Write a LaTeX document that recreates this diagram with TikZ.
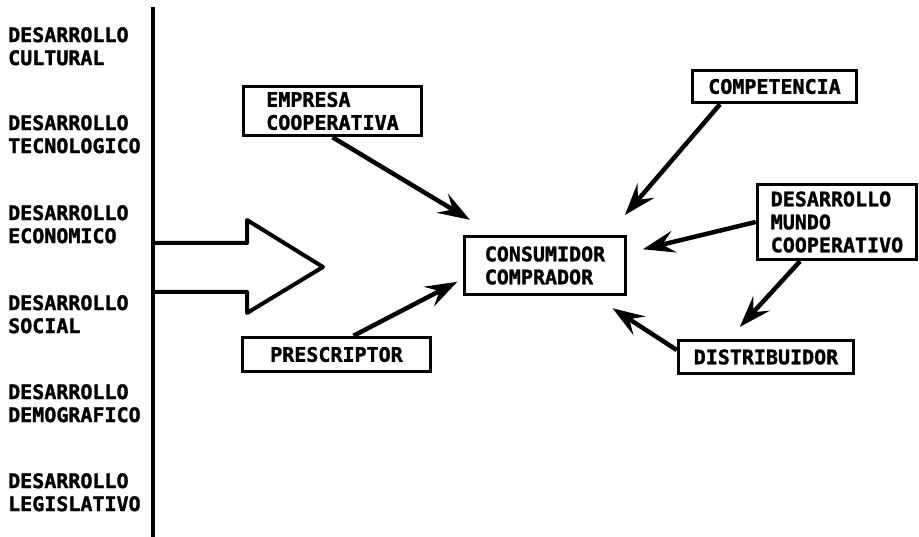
\documentclass[tikz,border=0pt]{standalone}
\usepackage{fontspec}
\newfontfamily\printfont{DejaVu Sans Mono}[BoldFeatures={FakeBold=1.5}]
\usetikzlibrary{arrows.meta,calc}
\tikzset{
  lbl/.style={font=\printfont\bfseries\fontsize{20}{23}\selectfont, align=left, anchor=north west, inner sep=0pt},
  boxnode/.style={draw, line width=3.5pt, font=\printfont\bfseries\fontsize{20}{23}\selectfont, align=left, inner sep=0pt},
  arr/.style={line width=4.5pt, -{Stealth[length=32pt,width=22pt,inset=12pt]}},
}
\begin{document}
\begin{tikzpicture}[x=1pt,y=-1pt]
\useasboundingbox (0,0) rectangle (919,537);
\fill[white] (0,0) rectangle (919,537);
% vertical line
\draw[line width=4pt] (153,7) -- (153,537);
% left labels
\node[lbl] (l1) at (8,27) {DESARROLLO\\CULTURAL};
\node[lbl] (l2) at (8,115) {DESARROLLO\\TECNOLOGICO};
\node[lbl] (l3) at (8,205) {DESARROLLO\\ECONOMICO};
\node[lbl] (l4) at (8,295) {DESARROLLO\\SOCIAL};
\node[lbl] (l5) at (8,384) {DESARROLLO\\DEMOGRAFICO};
\node[lbl] (l6) at (8,473) {DESARROLLO\\LEGISLATIVO};
% big arrow
\draw[line width=4pt, line join=round] (153,243) -- (247,243) -- (247,220) -- (323,267) -- (247,313) -- (247,292) -- (153,292);
% boxes
\node[boxnode, minimum width=178pt, minimum height=49pt] (emp) at (332.5,111) {EMPRESA\\COOPERATIVA};
\node[boxnode, minimum width=188pt, minimum height=34pt] (pre) at (336.5,354.5) {PRESCRIPTOR};
\node[boxnode, minimum width=161pt, minimum height=58pt] (cons) at (545,265.5) {CONSUMIDOR\\COMPRADOR};
\node[boxnode, minimum width=164pt, minimum height=32pt] (comp) at (774.5,86.5) {COMPETENCIA};
\node[boxnode, minimum width=159pt, minimum height=75pt] (mundo) at (837,222) {DESARROLLO\\MUNDO\\COOPERATIVO};
\node[boxnode, minimum width=175pt, minimum height=33pt] (dist) at (766,357) {DISTRIBUIDOR};
% arrows
\draw[arr, shorten >=29pt] (emp.south) -- ($(cons.north west)+(32,0)$);
\draw[arr, shorten >=6pt] ($(pre.north)+(17,0)$) -- ($(cons.west)+(0,13.5)$);
\draw[arr, shorten >=26pt] ($(comp.south)+(-54.5,0)$) -- ($(cons.north)+(63,0)$);
\draw[arr, shorten >=16pt] (mundo.west) -- ($(cons.east)+(0,-12.5)$);
\draw[arr, shorten >=16pt] ($(mundo.south)+(-37,0)$) -- ($(dist.north)+(-37,0)$);
\draw[arr, shorten >=22pt] ($(dist.west)+(0,-7)$) -- ($(cons.south)+(49,0)$);
\end{tikzpicture}
\end{document}
